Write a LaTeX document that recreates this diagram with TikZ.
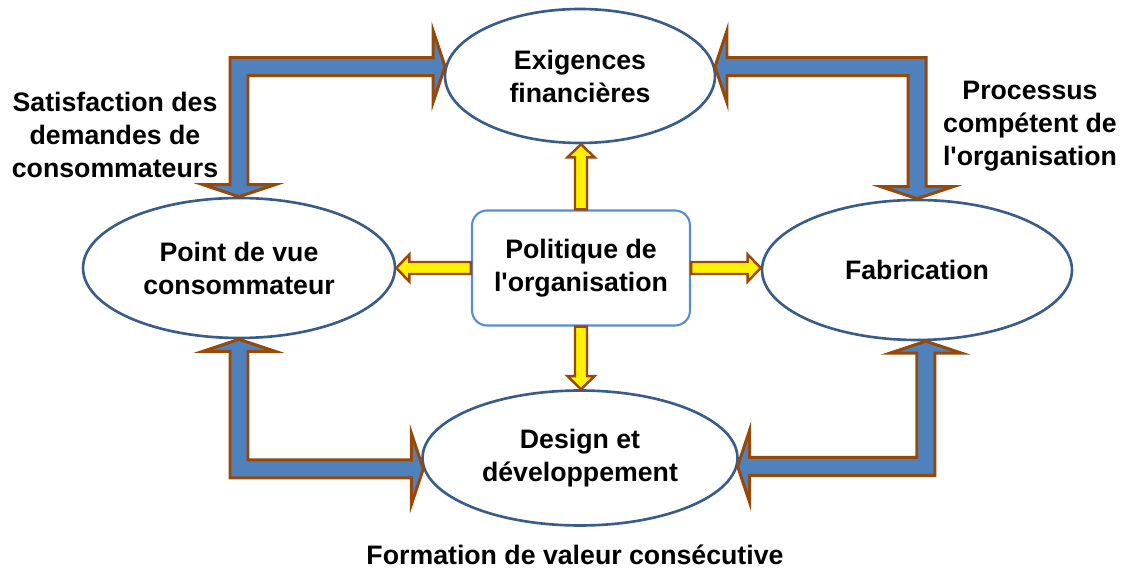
\documentclass[tikz,border=0pt]{standalone}
\usepackage{fontspec}
\setmainfont{Liberation Sans}
\usetikzlibrary{shapes.geometric,calc}
\definecolor{ellblue}{RGB}{56,93,138}
\definecolor{arrblue}{RGB}{79,129,189}
\definecolor{arrbrown}{RGB}{152,72,7}
\definecolor{boxblue}{RGB}{85,142,213}

\begin{document}
\begin{tikzpicture}[x=0.02cm,y=-0.02cm]
	\tikzstyle{txt}=[font=\fontsize{15.2}{18.8}\selectfont\bfseries, align=center];
	\tikzstyle{enode}=[txt, shape=ellipse, draw=ellblue, line width=1.5pt, inner sep=0pt];
	\tikzstyle{pnode}=[txt, shape=rectangle, draw=boxblue, line width=1.2pt, rounded corners=0.3cm, minimum width=4.36cm, minimum height=2.3cm];
	\tikzstyle{bigarrow}=[fill=arrblue, draw=arrbrown, line width=1.7pt, line join=miter];
	\tikzstyle{smallarrow}=[fill=yellow, draw=arrbrown, line width=1.4pt, line join=miter];

	\useasboundingbox (0,0) rectangle (1124,573);

	\node[enode, minimum width=5.4cm, minimum height=2.68cm] (fin) at (580,76) {Exigences\\financières};
	\node[enode, minimum width=6.24cm, minimum height=2.8cm] (cons) at (239,268) {Point de vue\\consommateur};
	\node[enode, minimum width=6.2cm, minimum height=2.8cm] (fab) at (917,270) {Fabrication};
	\node[enode, minimum width=6.3cm, minimum height=2.7cm] (des) at (580,458) {Design et\\développement};
	\node[pnode] (pol) at (581,268) {Politique de\\l\textquotesingle organisation};

	\node[txt] (sat) at (115,135) {Satisfaction des\\demandes de\\consommateurs};
	\node[txt] (proc) at (1030,126) {Processus\\compétent de\\l\textquotesingle organisation};
	\node[txt] (form) at (575,555) {Formation de valeur consécutive};

	\draw[bigarrow] (cons.north) -- ++(-36,-12) -- ++(27,0) |- ($(fin.176)+(-12,-9)$) -- ++(0,-27) -- (fin.176) -- ++(-12,36) -- ++(0,-27) -| ($(cons.north)+(9,-12)$) -- ++(27,0) -- cycle;
	\draw[bigarrow] (fab.north) -- ++(36,-12) -- ++(-27,0) |- ($(fin.4)+(12,-9)$) -- ++(0,-27) -- (fin.4) -- ++(12,36) -- ++(0,-27) -| ($(fab.north)+(-9,-12)$) -- ++(-27,0) -- cycle;
	\draw[bigarrow] (cons.south) -- ++(-36,12) -- ++(27,0) |- ($(des.184)+(-12,9)$) -- ++(0,27) -- (des.184) -- ++(-12,-36) -- ++(0,27) -| ($(cons.south)+(9,12)$) -- ++(27,0) -- cycle;
	\draw[bigarrow] (fab.277) -- ++(36,12) -- ++(-27,0) |- ($(des.357)+(12,9)$) -- ++(0,27) -- (des.357) -- ++(12,-36) -- ++(0,27) -| ($(fab.277)+(-9,12)$) -- ++(-27,0) -- cycle;

	\draw[smallarrow] ($(pol.north)+(-6,0)$) -- ($(pol.north |- fin.south)+(-6,13)$) -- ++(-7.5,0) -- (pol.north |- fin.south) -- ++(13.5,13) -- ++(-7.5,0) -- ($(pol.north)+(6,0)$) -- cycle;
	\draw[smallarrow] ($(pol.south)+(-6,0)$) -- ($(pol.south |- des.north)+(-6,-13)$) -- ++(-7.5,0) -- (pol.south |- des.north) -- ++(13.5,-13) -- ++(-7.5,0) -- ($(pol.south)+(6,0)$) -- cycle;
	\draw[smallarrow] ($(pol.east)+(0,-6)$) -- ($(pol.east -| fab.west)+(-13,-6)$) -- ++(0,-7.5) -- (pol.east -| fab.west) -- ++(-13,13.5) -- ++(0,-7.5) -- ($(pol.east)+(0,6)$) -- cycle;
	\draw[smallarrow] ($(pol.west)+(0,-6)$) -- ($(pol.west -| cons.east)+(13,-6)$) -- ++(0,-7.5) -- (pol.west -| cons.east) -- ++(13,13.5) -- ++(0,-7.5) -- ($(pol.west)+(0,6)$) -- cycle;

\end{tikzpicture}
\end{document}
